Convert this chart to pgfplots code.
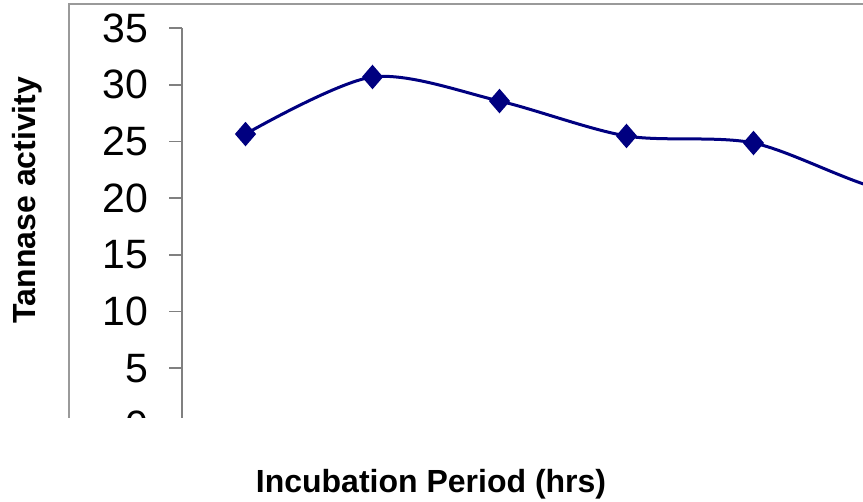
\documentclass[border=0pt]{standalone}
\usepackage{fontspec}
\setmainfont{Liberation Sans}
\usepackage{pgfplots}
\pgfplotsset{compat=1.18}
\definecolor{navyline}{HTML}{000080}
\definecolor{framegray}{HTML}{9A9A9A}
\definecolor{axisgray}{HTML}{808080}
\begin{document}
\begin{tikzpicture}
% 1px = 0.5pt, picture 863x502 px
\path[use as bounding box] (0,0) rectangle (431.5pt,251pt);
\begin{scope}
\clip (0,42pt) rectangle (431.5pt,251pt);
\draw[framegray, line width=0.8pt] (34.5pt,-10pt) rectangle (500pt,249pt);
\begin{axis}[
    at={(91pt,38.5pt)}, anchor=south west,
    scale only axis,
    width=444.5pt, height=198.5pt,
    xmin=0.5, xmax=7.5,
    ymin=0, ymax=35,
    axis x line=none,
    axis y line*=left,
    y axis line style={axisgray, line width=0.8pt, -},
    ytick={0,5,...,35},
    tick align=outside,
    major tick length=6.5pt,
    ytick style={axisgray, line width=0.8pt},
    yticklabel style={anchor=east, inner sep=0pt, xshift=-10pt,
        font=\fontsize{20.5}{24}\selectfont},
    /pgf/number format/assume math mode=true,
    clip=true,
]
\addplot[navyline, line width=1.5pt, smooth, tension=0.5,
    mark=diamond*, mark size=5pt, mark options={xscale=1.15, fill=navyline, draw=navyline}]
    coordinates {(1,25.65) (2,30.68) (3,28.56) (4,25.48) (5,24.86) (6,20.8) (7,19.5)};
\end{axis}
\end{scope}
\node[rotate=90, font=\fontsize{16}{19}\selectfont\bfseries] at (13.5pt,151pt) {Tannase activity};
\node[font=\fontsize{16}{19}\selectfont\bfseries] at (215.5pt,9pt) {Incubation Period (hrs)};
\end{tikzpicture}
\end{document}
